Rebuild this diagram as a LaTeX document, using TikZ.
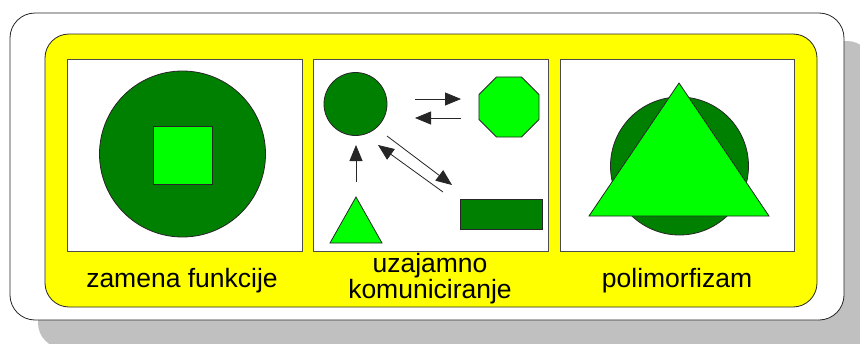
\documentclass[tikz,border=0pt]{standalone}
\usepackage{fontspec}
\setmainfont{Liberation Sans}
\usetikzlibrary{shapes.geometric,arrows.meta}
\definecolor{dkgreen}{HTML}{008000}
\definecolor{ltgreen}{HTML}{00FF00}
\definecolor{shadowgray}{HTML}{C0C0C0}
\definecolor{bgyellow}{HTML}{FFFF00}
\tikzset{
  outline/.style={draw=black!85, line width=0.8pt},
  panel/.style={draw=black!70, fill=white, line width=0.8pt},
  dkshape/.style={outline, fill=dkgreen},
  ltshape/.style={outline, fill=ltgreen},
  arr/.style={draw=black!85, line width=0.8pt, -{Triangle[length=16pt,width=13pt]}},
  lbl/.style={font=\fontsize{26.5}{24}\selectfont, align=center, inner sep=0pt}
}
\begin{document}
\begin{tikzpicture}[x=1pt,y=-1pt]
\useasboundingbox (0,0) rectangle (860,343);
% shadow and frames
\fill[shadowgray, rounded corners=25pt] (38,41) rectangle (872,348);
\draw[outline, fill=white, rounded corners=25pt] (10,13) rectangle (844,320);
\draw[outline, fill=bgyellow, rounded corners=24pt] (45,34) rectangle (817,307);
% panels
\draw[panel] (67,59) rectangle (302,251);
\draw[panel] (313,59) rectangle (548,251);
\draw[panel] (560,59) rectangle (794,251);
% panel 1
\node[dkshape, circle, minimum size=166pt, inner sep=0pt] (bigc) at (182.5,154) {};
\node[ltshape, rectangle, minimum width=59pt, minimum height=58pt, inner sep=0pt] (sq) at (182.5,155) {};
% panel 2
\node[dkshape, circle, minimum size=63pt, inner sep=0pt] (c2) at (355.5,104) {};
\node[ltshape, regular polygon, regular polygon sides=8, minimum size=65pt, inner sep=0pt] (oct) at (509,107) {};
\node[dkshape, rectangle, minimum width=82pt, minimum height=30pt, inner sep=0pt] (rect) at (501,214) {};
\coordinate (t2a) at (356,197);
\coordinate (t2b) at (330,243);
\coordinate (t2c) at (382,243);
\draw[ltshape] (t2a) -- (t2b) -- (t2c) -- cycle;
\coordinate (a1s) at (415,99);  \coordinate (a1e) at (461,99);
\coordinate (a2s) at (461,118); \coordinate (a2e) at (415,118);
\coordinate (a3s) at (356,182); \coordinate (a3e) at (356,145);
\coordinate (a4s) at (387,136); \coordinate (a4e) at (452,185);
\coordinate (a5s) at (443,192); \coordinate (a5e) at (378,145);
\draw[arr] (a1s) -- (a1e);
\draw[arr] (a2s) -- (a2e);
\draw[arr] (a3s) -- (a3e);
\draw[arr] (a4s) -- (a4e);
\draw[arr] (a5s) -- (a5e);
% panel 3
\node[dkshape, circle, minimum size=138pt, inner sep=0pt] (c3) at (679.5,166) {};
\coordinate (t3a) at (679,83);
\coordinate (t3b) at (589,216);
\coordinate (t3c) at (769,216);
\draw[ltshape] (t3a) -- (t3b) -- (t3c) -- cycle;
% labels
\node[lbl, anchor=base] (l1) at (182,287) {zamena funkcije};
\node[lbl, anchor=base] (l2) at (430,298) {uzajamno\\komuniciranje};
\node[lbl, anchor=base] (l3) at (677,287) {polimorfizam};
\end{tikzpicture}
\end{document}
